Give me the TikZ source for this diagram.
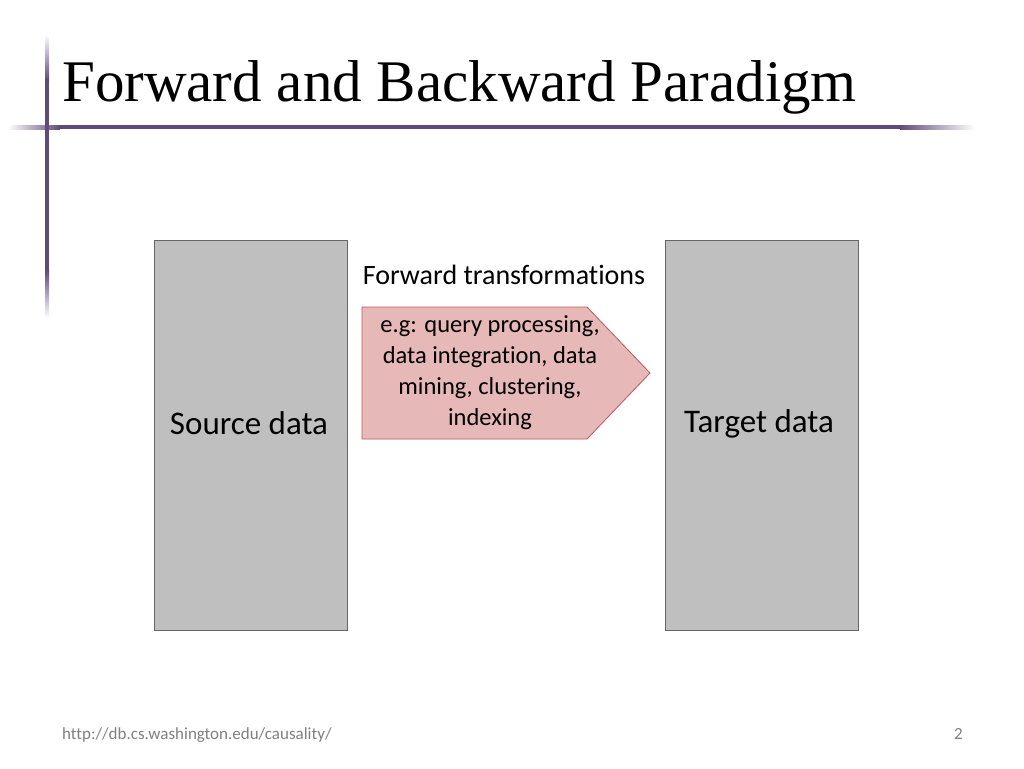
\documentclass[tikz,border=0pt]{standalone}
\usepackage{fontspec}
\setmainfont[RawFeature=-liga]{Carlito}
\newfontfamily\titlefont{Liberation Serif}
\begin{document}
\begin{tikzpicture}[x=1pt,y=-1pt,
  databox/.style={draw=gray!80!black,fill=black!25,minimum width=193pt,minimum height=390pt,inner sep=0pt,anchor=north west},
  biglabel/.style={font=\fontsize{33}{38}\selectfont},
  small/.style={font=\fontsize{24.5}{31}\selectfont,align=center}]
\useasboundingbox (0,0) rectangle (1024,768);
\definecolor{bar}{HTML}{5F4B7B}
\shade[left color=white,right color=bar] (8,125) rectangle (60,129);
\fill[bar] (59,125) rectangle (901,129);
\shade[left color=bar,right color=white] (900,125) rectangle (975,129);
\shade[top color=white,bottom color=bar] (45,35) rectangle (49,80);
\fill[bar] (45,79) rectangle (49,271);
\shade[top color=bar,bottom color=white] (45,270) rectangle (49,318);
\node[anchor=base west,font=\titlefont\fontsize{59}{64}\selectfont,inner sep=0pt] (title) at (62,101) {Forward and Backward Paradigm};
\node[databox] (src) at (154,240) {};
\node[databox] (tgt) at (665,240) {};
\node[biglabel] (srcl) at (249,423) {Source data};
\node[biglabel] (tgtl) at (759,424) {Target data};
\definecolor{arr}{HTML}{E6B8B7}
\filldraw[fill=arr,draw=arr!60!red!80!black,line width=0.8pt] (362,307) -- (587,307) -- (650,373) -- (587,439) -- (362,439) -- cycle;
\node[small] (ex) at (490,373) {e.g: query processing,\\data integration, data\\mining, clustering,\\indexing};
\node[font=\fontsize{28}{32}\selectfont] (fwd) at (504,275) {Forward transformations};
\node[anchor=base west,font=\fontsize{17}{20}\selectfont,text=gray,inner sep=0pt] (url) at (62,739) {http://db.cs.washington.edu/causality/};
\node[anchor=base east,font=\fontsize{17}{20}\selectfont,text=gray,inner sep=0pt] (pg) at (963,739) {2};
\end{tikzpicture}
\end{document}
